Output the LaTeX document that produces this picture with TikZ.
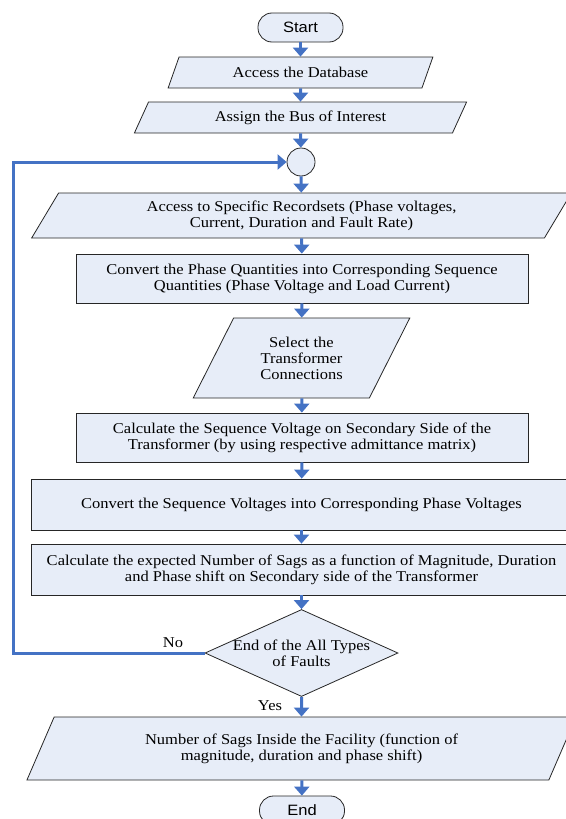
\documentclass[tikz,border=0pt]{standalone}
\usepackage{fontspec}
\setmainfont{Liberation Serif}[FakeStretch=1.1]
\newfontfamily\termfont{Liberation Sans}[FakeStretch=1.1]
\usetikzlibrary{shapes.geometric,arrows.meta}

\definecolor{flowblue}{RGB}{68,114,196}
\definecolor{boxfill}{RGB}{231,237,248}

\begin{document}
\begin{tikzpicture}[x=1pt,y=-1pt]

% Shape styles
\tikzset{
    base/.style={draw=black!85, line width=0.8pt, fill=boxfill, inner sep=0pt,
        font=\fontsize{15}{16}\selectfont, align=center},
    terminal/.style={base, rounded corners=14pt, minimum width=85pt,
        minimum height=29pt, font=\termfont\fontsize{15}{16}\selectfont},
    process/.style={base, rectangle},
    iobox/.style={base, trapezium, trapezium left angle=60,
        trapezium right angle=120, trapezium stretches=true},
    decision/.style={base, diamond},
    flow/.style={draw=flowblue, line width=3pt,
        -{Triangle[width=15pt,length=9pt]}},
}

\useasboundingbox (0,0) rectangle (565,819);

% Top of the chart
\node[terminal] (start) at (300.5,27.5) {Start};
\node[iobox, minimum width=265pt, minimum height=31pt] (db) at (300.5,72.5)
    {Access the Database};
\node[iobox, minimum width=333pt, minimum height=31pt] (bus) at (300.5,117.5)
    {Assign the Bus of Interest};
\node[base, circle, minimum size=28pt] (hub) at (301,162) {};

% Main steps
\node[iobox, minimum width=541pt, minimum height=45pt] (rec) at (301.5,215.5)
    {Access to Specific Recordsets (Phase voltages,\\Current, Duration and Fault Rate)};
\node[process, minimum width=452pt, minimum height=49pt] (seqq) at (302,278.5)
    {Convert the Phase Quantities into Corresponding Sequence\\Quantities (Phase Voltage and Load Current)};
\node[iobox, minimum width=217pt, minimum height=80pt] (conn) at (301.5,358)
    {Select the\\Transformer\\Connections};
\node[process, minimum width=452pt, minimum height=49pt] (secv) at (302,437.5)
    {Calculate the Sequence Voltage on Secondary Side of the\\Transformer (by using respective admittance matrix)};
\node[process, minimum width=541pt, minimum height=51pt] (phv) at (301.5,504.5)
    {Convert the Sequence Voltages into Corresponding Phase Voltages};
\node[process, minimum width=541pt, minimum height=51pt] (sags) at (301.5,569.5)
    {Calculate the expected Number of Sags as a function of Magnitude, Duration\\and Phase shift on Secondary side of the Transformer};

% Decision and result
\node[decision, minimum width=193pt, minimum height=87pt] (dec) at (301.5,653) {};
\node[font=\fontsize{15}{16}\selectfont, align=center] (dectext) at (301.5,653)
    {End of the All Types\\of Faults};
\node[iobox, minimum width=551pt, minimum height=63pt] (fac) at (301.5,748.5)
    {Number of Sags Inside the Facility (function of\\magnitude, duration and phase shift)};
\node[terminal] (end) at (302,810.5) {End};

% Arrows
\draw[flow] (start) -- (db);
\draw[flow] (db) -- (bus);
\draw[flow] (bus) -- (hub);
\draw[flow] (hub) -- (rec);
\draw[flow] (rec) -- (seqq);
\draw[flow] (seqq) -- (conn);
\draw[flow] (conn) -- (secv);
\draw[flow] (secv) -- (phv);
\draw[flow] (phv) -- (sags);
\draw[flow] (sags) -- (dec);
\draw[flow] (dec) -- (fac);
\draw[flow] (fac) -- (end);

% Loop back
\coordinate (back) at (13,653);
\draw[flow] (dec.west) -- (back) |- (hub.west);

% Labels
\node[font=\fontsize{15}{16}\selectfont] (no) at (173,643) {No};
\node[font=\fontsize{15}{16}\selectfont] (yes) at (270,706) {Yes};

\end{tikzpicture}
\end{document}
